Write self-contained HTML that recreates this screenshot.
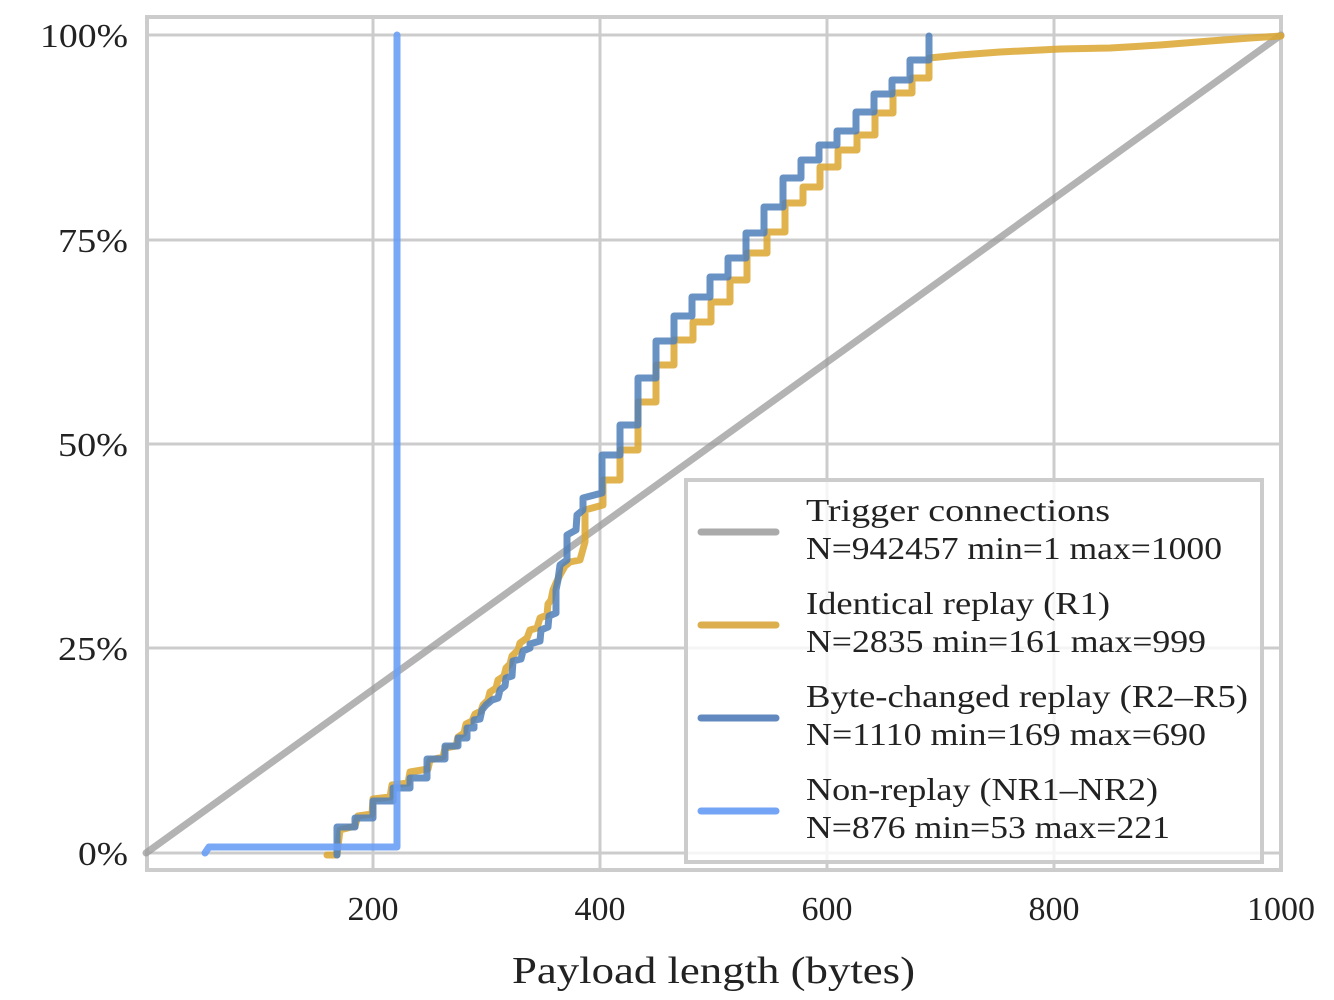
<!DOCTYPE html>
<html><head><meta charset="utf-8"><style>
html,body{margin:0;padding:0;background:#fff;}
svg{display:block;}
text{font-family:"Liberation Serif",serif;fill:#222;}
</style></head><body>
<svg width="1334" height="1000" viewBox="0 0 1334 1000" xmlns="http://www.w3.org/2000/svg">
<g stroke="#cccccc" stroke-width="3">
<line x1="373" y1="17" x2="373" y2="870"/><line x1="600" y1="17" x2="600" y2="870"/>
<line x1="827" y1="17" x2="827" y2="870"/><line x1="1054" y1="17" x2="1054" y2="870"/>
<line x1="147" y1="35" x2="1281" y2="35"/><line x1="147" y1="240" x2="1281" y2="240"/>
<line x1="147" y1="444" x2="1281" y2="444"/><line x1="147" y1="648" x2="1281" y2="648"/>
<line x1="147" y1="853" x2="1281" y2="853"/>
</g>
<rect x="147" y="17" width="1134" height="853" fill="none" stroke="#cccccc" stroke-width="4"/>
<line x1="146" y1="853" x2="1281" y2="35" stroke="#999" stroke-opacity="0.75" stroke-width="7" stroke-linecap="round"/>
<polyline fill="none" stroke="#dca630" stroke-opacity="0.85" stroke-width="7" stroke-linejoin="round" stroke-linecap="round" points="327,855 337,855 340,830 355,826 358,816 372,814 373,799 390,797 392,785 408,783 410,772 428,769 430,760 443,757 445,748 456,746 458,737 464,733 466,724 472,721 475,714 481,711 483,705 488,700 490,692 496,688 498,680 504,676 506,668 510,664 512,656 518,650 520,643 527,638 530,630 537,628 540,618 547,615 548,604 551,600 553,590 556,583 560,575 565,566 570,562 580,560 585,542 585,510 603,505 603,480 620,480 620,450 638,450 638,402 656,402 656,365 674,365 674,340 693,340 693,322 711,322 711,302 730,302 730,280 747,280 747,253 767,253 767,232 785,232 785,203 803,203 803,187 820,187 820,167 838,167 838,150 857,150 857,135 875,135 875,113 893,113 893,93 912,93 912,78 929,78 929,58 960,55 1000,52 1060,49 1110,48 1160,45 1210,41 1250,38 1281,36"/>
<polyline fill="none" stroke="#4f7fba" stroke-opacity="0.85" stroke-width="7" stroke-linejoin="round" stroke-linecap="round" points="337,855 337,827 355,827 355,818 373,818 373,801 393,801 393,788 410,788 410,778 427,778 427,759 445,759 445,746 458,746 458,738 467,738 467,728 474,728 474,720 480,719 482,710 486,705 492,700 498,698 500,690 505,686 506,678 512,676 513,661 521,659 523,651 530,648 530,644 540,641 541,630 548,627 549,616 556,613 556,601 556,590 558,580 560,565 567,560 567,535 576,530 577,515 583,510 583,498 602,493 602,455 620,455 620,425 638,425 638,378 656,378 656,341 674,341 674,316 692,316 692,297 710,297 710,277 728,277 728,258 746,258 746,233 764,233 764,207 783,207 783,178 801,178 801,160 819,160 819,145 837,145 837,131 856,131 856,112 874,112 874,94 892,94 892,80 910,80 910,60 929,60 929,36"/>
<polyline fill="none" stroke="#6a9ef5" stroke-opacity="0.9" stroke-width="7" stroke-linejoin="round" stroke-linecap="round" points="205,853 209,847 397,847 397,35"/>
<rect x="686" y="480" width="576" height="382" fill="#fff" fill-opacity="0.8" stroke="#cccccc" stroke-width="4"/>
<g stroke-width="7" stroke-linecap="round">
<line x1="701" y1="532" x2="776" y2="532" stroke="#aaaaaa"/>
<line x1="701" y1="625" x2="776" y2="625" stroke="#dcae4e"/>
<line x1="701" y1="718" x2="776" y2="718" stroke="#6189bf"/>
<line x1="701" y1="811" x2="776" y2="811" stroke="#74a4f5"/>
</g>
<g font-size="32">
<text x="806" y="521" textLength="304" lengthAdjust="spacingAndGlyphs">Trigger connections</text>
<text x="806" y="559" textLength="416" lengthAdjust="spacingAndGlyphs">N=942457 min=1 max=1000</text>
<text x="806" y="614" textLength="304" lengthAdjust="spacingAndGlyphs">Identical replay (R1)</text>
<text x="806" y="652" textLength="400" lengthAdjust="spacingAndGlyphs">N=2835 min=161 max=999</text>
<text x="806" y="707" textLength="442" lengthAdjust="spacingAndGlyphs">Byte-changed replay (R2–R5)</text>
<text x="806" y="745" textLength="400" lengthAdjust="spacingAndGlyphs">N=1110 min=169 max=690</text>
<text x="806" y="800" textLength="352" lengthAdjust="spacingAndGlyphs">Non-replay (NR1–NR2)</text>
<text x="806" y="838" textLength="364" lengthAdjust="spacingAndGlyphs">N=876 min=53 max=221</text>
</g>
<g font-size="34" text-anchor="end">
<text x="128" y="47" textLength="88" lengthAdjust="spacingAndGlyphs">100%</text>
<text x="128" y="252" textLength="70" lengthAdjust="spacingAndGlyphs">75%</text>
<text x="128" y="456" textLength="70" lengthAdjust="spacingAndGlyphs">50%</text>
<text x="128" y="660" textLength="70" lengthAdjust="spacingAndGlyphs">25%</text>
<text x="128" y="865" textLength="50" lengthAdjust="spacingAndGlyphs">0%</text>
</g>
<g font-size="34" text-anchor="middle">
<text x="373" y="920">200</text><text x="600" y="920">400</text>
<text x="827" y="920">600</text><text x="1054" y="920">800</text>
<text x="1281" y="920">1000</text>
</g>
<text x="512" y="983" font-size="38" textLength="403" lengthAdjust="spacingAndGlyphs">Payload length (bytes)</text>
</svg>
</body></html>
